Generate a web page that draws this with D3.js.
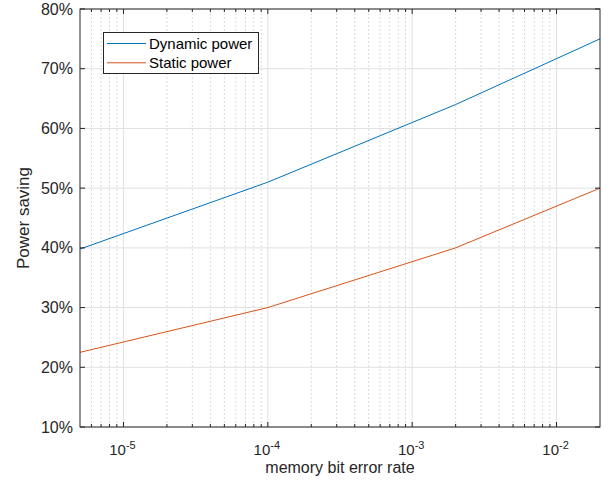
<!DOCTYPE html>
<html>
<head>
<meta charset="utf-8">
<script src="https://cdn.jsdelivr.net/npm/d3@7"></script>
<style>
  html, body { margin: 0; padding: 0; background: #fff; }
  svg { display: block; font-family: "Liberation Sans", Arial, Helvetica, sans-serif; }
</style>
</head>
<body>
<svg id="chart" width="611" height="483"></svg>
<script>
// Power saving versus memory bit error rate
const errorRates = [5e-6, 1e-4, 2e-3, 2e-2];
const dynamicPower = [0.398, 0.51, 0.64, 0.75];
const staticPower = [0.225, 0.30, 0.40, 0.50];
const seriesNames = ["Dynamic power", "Static power"];
const seriesColors = ["#0072BD", "#D95319"];
const yTicks = [0.1, 0.2, 0.3, 0.4, 0.5, 0.6, 0.7, 0.8];
const xDecades = [-5, -4, -3, -2];

const m = { left: 80, top: 9, right: 600, bottom: 427 };
const svg = d3.select("#chart");

const x = d3.scaleLog().domain([5e-6, 2e-2]).range([m.left, m.right]);
const y = d3.scaleLinear().domain([0.1, 0.8]).range([m.bottom, m.top]);

// minor positions 2..9 within each decade inside the domain
const minor = [];
for (let e = -6; e <= -2; e++) {
  for (let k = 2; k <= 9; k++) {
    const v = k * Math.pow(10, e);
    if (v > 5e-6 && v < 2e-2) minor.push(v);
  }
}
const major = xDecades.map(e => Math.pow(10, e));

const grid = svg.append("g");
grid.selectAll("line.minor").data(minor).join("line")
  .attr("x1", d => x(d)).attr("x2", d => x(d))
  .attr("y1", m.top).attr("y2", m.bottom)
  .attr("stroke", "#dcdcdc").attr("stroke-width", 1).attr("stroke-dasharray", "2,2");
grid.selectAll("line.major").data(major).join("line")
  .attr("x1", d => x(d)).attr("x2", d => x(d))
  .attr("y1", m.top).attr("y2", m.bottom)
  .attr("stroke", "#e0e0e0").attr("stroke-width", 1);
grid.selectAll("line.h").data(yTicks).join("line")
  .attr("x1", m.left).attr("x2", m.right)
  .attr("y1", d => y(d)).attr("y2", d => y(d))
  .attr("stroke", "#e0e0e0").attr("stroke-width", 1);

// series lines
const line = d3.line().x(d => x(d[0])).y(d => y(d[1]));
[dynamicPower, staticPower].forEach((vals, i) => {
  svg.append("path")
    .datum(errorRates.map((r, j) => [r, vals[j]]))
    .attr("fill", "none")
    .attr("stroke", seriesColors[i])
    .attr("stroke-width", 1)
    .attr("d", line);
});

// axes box and inward ticks
const axisColor = "#262626";
const ax = svg.append("g").attr("stroke", axisColor).attr("stroke-width", 1);
ax.append("rect")
  .attr("x", m.left).attr("y", m.top)
  .attr("width", m.right - m.left).attr("height", m.bottom - m.top)
  .attr("fill", "none");
yTicks.forEach(v => {
  ax.append("line").attr("x1", m.left).attr("x2", m.left + 5).attr("y1", y(v)).attr("y2", y(v));
  ax.append("line").attr("x1", m.right).attr("x2", m.right - 5).attr("y1", y(v)).attr("y2", y(v));
});
major.forEach(v => {
  ax.append("line").attr("x1", x(v)).attr("x2", x(v)).attr("y1", m.bottom).attr("y2", m.bottom - 5);
  ax.append("line").attr("x1", x(v)).attr("x2", x(v)).attr("y1", m.top).attr("y2", m.top + 5);
});
minor.forEach(v => {
  ax.append("line").attr("x1", x(v)).attr("x2", x(v)).attr("y1", m.bottom).attr("y2", m.bottom - 3);
  ax.append("line").attr("x1", x(v)).attr("x2", x(v)).attr("y1", m.top).attr("y2", m.top + 3);
});

// y tick labels
svg.append("g").selectAll("text").data(yTicks).join("text")
  .attr("x", m.left - 7).attr("y", d => y(d) + 5.5)
  .attr("text-anchor", "end")
  .attr("font-size", 16).attr("fill", axisColor)
  .text(d => d3.format(".0%")(d));

// x tick labels with exponents
xDecades.forEach(e => {
  const t = svg.append("text")
    .attr("x", x(Math.pow(10, e)) - 1).attr("y", 455)
    .attr("text-anchor", "middle")
    .attr("font-size", 15).attr("fill", axisColor);
  t.append("tspan").text("10");
  t.append("tspan").attr("dy", -6).attr("font-size", 11).text(String(e));
});

// axis titles
svg.append("text")
  .attr("x", (m.left + m.right) / 2).attr("y", 473)
  .attr("text-anchor", "middle").attr("font-size", 16).attr("fill", axisColor)
  .text("memory bit error rate");
svg.append("text")
  .attr("transform", `translate(29,${(m.top + m.bottom) / 2}) rotate(-90)`)
  .attr("text-anchor", "middle").attr("font-size", 17).attr("fill", axisColor)
  .text("Power saving");

// legend
const lg = svg.append("g");
lg.append("rect")
  .attr("x", 103.5).attr("y", 32.5).attr("width", 155).attr("height", 41)
  .attr("fill", "#fff").attr("stroke", axisColor).attr("stroke-width", 1);
seriesNames.forEach((name, i) => {
  const yy = 43.5 + i * 19.3;
  lg.append("line").attr("x1", 107).attr("x2", 146).attr("y1", yy).attr("y2", yy)
    .attr("stroke", seriesColors[i]).attr("stroke-width", 1);
  lg.append("text").attr("x", 149).attr("y", yy + 5.5)
    .attr("font-size", 15).attr("fill", "#000").text(name);
});
</script>
</body>
</html>
